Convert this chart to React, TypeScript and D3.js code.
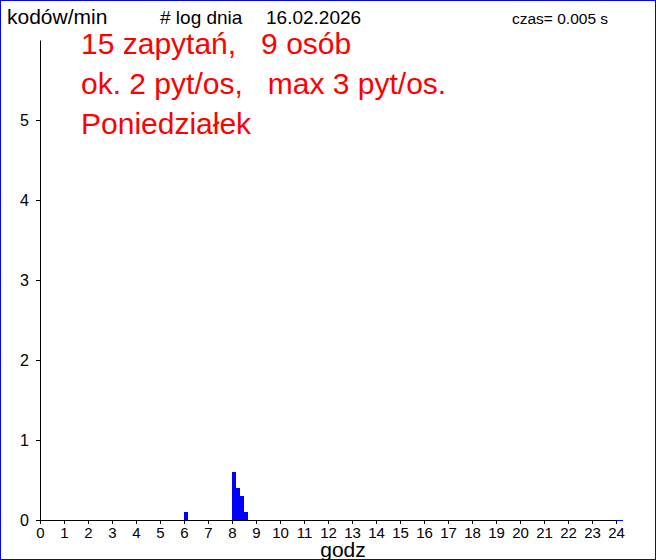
import React, { useEffect, useRef } from "react";
import * as d3 from "d3";

// 10-minute bins: start hour and codes per minute
const binStarts: number[] = [6.0, 8.0, 8 + 1 / 6, 8 + 2 / 6, 8 + 3 / 6];
const binValues: number[] = [0.1, 0.6, 0.4, 0.3, 0.1];
const binWidth = 1 / 6;

const xTicks: number[] = d3.range(0, 25);
const yTicks: number[] = [0, 1, 2, 3, 4, 5];

const headerLeft = "kodów/min";
const headerLog = "# log dnia";
const headerDate = "16.02.2026";
const headerTime = "czas= 0.005 s";
const infoLines: string[] = [
  "15 zapytań,   9 osób",
  "ok. 2 pyt/os,   max 3 pyt/os.",
  "Poniedziałek",
];
const xLabel = "godz";

const W = 656;
const H = 560;
const FONT = "'Liberation Sans', Arial, sans-serif";

const App: React.FC = () => {
  const svgRef = useRef<SVGSVGElement | null>(null);

  useEffect(() => {
    document.body.style.margin = "0";
    if (!svgRef.current) return;
    const svg = d3.select(svgRef.current);
    svg.selectAll("*").remove();

    const x = d3.scaleLinear().domain([0, 24]).range([40, 616]);
    const y = d3.scaleLinear().domain([0, 6]).range([520, 40]);

    svg
      .append("rect")
      .attr("x", 0.5)
      .attr("y", 0.5)
      .attr("width", W - 1)
      .attr("height", H - 1)
      .attr("fill", "#fff")
      .attr("stroke", "#0000ff")
      .attr("stroke-width", 1);

    // bars
    svg
      .append("g")
      .selectAll("rect")
      .data(binStarts)
      .join("rect")
      .attr("x", (d) => x(d))
      .attr("width", (d) => x(d + binWidth) - x(d))
      .attr("y", (_, i) => y(binValues[i]))
      .attr("height", (_, i) => y(0) - y(binValues[i]))
      .attr("fill", "#0000ff")
      .attr("shape-rendering", "crispEdges");

    const xAxis = d3
      .axisBottom(x)
      .tickValues(xTicks)
      .tickSize(4)
      .tickSizeOuter(0)
      .tickPadding(3)
      .tickFormat((d) => String(d));

    const gx = svg
      .append("g")
      .attr("transform", `translate(0,${y(0)})`)
      .call(xAxis);
    gx.selectAll("text")
      .style("font-family", FONT)
      .style("font-size", "15px")
      .attr("fill", "#000");

    // short blue stretch of baseline beyond 24
    svg
      .append("line")
      .attr("x1", x(24))
      .attr("x2", x(24) + 7)
      .attr("y1", y(0) + 0.5)
      .attr("y2", y(0) + 0.5)
      .attr("stroke", "#0000ff")
      .attr("stroke-width", 1);

    const yAxis = d3
      .axisLeft(y)
      .tickValues(yTicks)
      .tickSize(4)
      .tickSizeOuter(0)
      .tickPadding(7)
      .tickFormat((d) => String(d));

    const gy = svg.append("g").attr("transform", `translate(${x(0)},0)`).call(yAxis);
    gy.selectAll("text")
      .style("font-family", FONT)
      .style("font-size", "16px")
      .attr("fill", "#000");

    svg.selectAll(".domain").attr("stroke", "#000");
    svg.selectAll(".tick line").attr("stroke", "#000");

    // header
    const txt = (tx: number, ty: number, s: string, size: number, color = "#000", anchor = "start") =>
      svg
        .append("text")
        .attr("x", tx)
        .attr("y", ty)
        .attr("text-anchor", anchor)
        .style("font-family", FONT)
        .style("font-size", `${size}px`)
        .style("white-space", "pre")
        .attr("fill", color)
        .text(s);

    txt(7, 24, headerLeft, 21);
    txt(160, 24, headerLog, 19);
    txt(266, 24, headerDate, 19);
    txt(512, 24, headerTime, 15.5);

    const baselines = [54, 94, 134];
    infoLines.forEach((s, i) => txt(81, baselines[i], s, 30, "#ff0000"));

    txt(343, 557, xLabel, 21, "#000", "middle");
  }, []);

  return (
    <svg
      ref={svgRef}
      width={W}
      height={H}
      style={{ display: "block", position: "absolute", left: 0, top: 0 }}
    />
  );
};

export default App;
